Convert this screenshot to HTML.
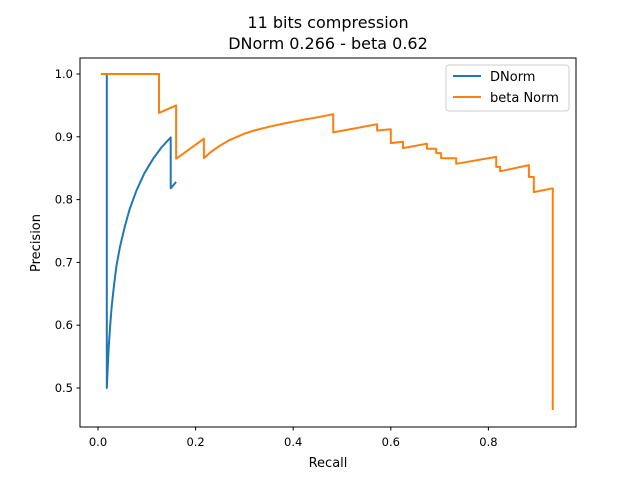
<!DOCTYPE html>
<html><head><meta charset="utf-8"><style>body{margin:0;background:#fff}svg{display:block;font-family:"DejaVu Sans","Liberation Sans",sans-serif}</style></head>
<body>
<svg id="c" width="640" height="480">
<rect width="640" height="480" fill="#fff"/>
<text x="328" y="28" text-anchor="middle" font-size="16">11 bits compression</text>
<text x="328" y="49" text-anchor="middle" font-size="16">DNorm 0.266 - beta 0.62</text>
<g id="ticks"></g>
<path id="blue" fill="none" stroke="#1f77b4" stroke-width="2" stroke-linejoin="round"/>
<path id="orange" fill="none" stroke="#ff7f0e" stroke-width="2" stroke-linejoin="round"/>
<rect x="80" y="58" width="496" height="369" fill="none" stroke="#000" stroke-width="1"/>
<text x="328" y="467" text-anchor="middle" font-size="13">Recall</text>
<text transform="translate(40,243) rotate(-90)" text-anchor="middle" font-size="13">Precision</text>
<g>
<rect x="446" y="65" width="123" height="46" rx="3" fill="#fff" stroke="#ccc"/>
<line x1="453" y1="76" x2="481" y2="76" stroke="#1f77b4" stroke-width="2"/>
<text x="490" y="81" font-size="13">DNorm</text>
<line x1="453" y1="97" x2="481" y2="97" stroke="#ff7f0e" stroke-width="2"/>
<text x="490" y="102" font-size="13">beta Norm</text>
</g>
</svg>
<script>
const xTicks=[0.0,0.2,0.4,0.6,0.8];
const yTicks=[0.5,0.6,0.7,0.8,0.9,1.0];
const dnormRecall=[0.018,0.018,0.02,0.022,0.025,0.028,0.033,0.038,0.045,0.055,0.065,0.079,0.095,0.113,0.13,0.149,0.149,0.16];
const dnormPrecision=[1.0,0.5,0.535,0.565,0.6,0.63,0.665,0.695,0.725,0.757,0.785,0.815,0.842,0.865,0.883,0.899,0.818,0.828];
const betaRecall=[0.006,0.125,0.125,0.16,0.16,0.217,0.217,0.23,0.25,0.27,0.3,0.32,0.35,0.38,0.4,0.42,0.45,0.482,0.482,0.572,0.572,0.6,0.6,0.625,0.625,0.674,0.674,0.693,0.693,0.703,0.703,0.734,0.734,0.816,0.816,0.824,0.824,0.883,0.883,0.893,0.893,0.932,0.932];
const betaPrecision=[1.0,1.0,0.938,0.95,0.865,0.897,0.866,0.875,0.886,0.895,0.905,0.91,0.916,0.921,0.924,0.927,0.931,0.936,0.907,0.92,0.91,0.912,0.89,0.892,0.882,0.889,0.881,0.881,0.874,0.874,0.866,0.866,0.857,0.868,0.852,0.852,0.845,0.855,0.836,0.836,0.812,0.818,0.465];
const X=v=>98+v*488, Y=v=>74+(1-v)*628;
const ns="http://www.w3.org/2000/svg";
const g=document.getElementById('ticks');
function mk(t,a){const e=document.createElementNS(ns,t);for(const k in a)e.setAttribute(k,a[k]);g.appendChild(e);return e;}
xTicks.forEach(v=>{const x=X(v);
const l=mk('line',{x1:x,x2:x,y1:427,y2:430.5,stroke:'#000'});


const t=mk('text',{x:x,y:446,'text-anchor':'middle','font-size':11.5});t.textContent=v.toFixed(1);

});
yTicks.forEach(v=>{const y=Y(v);
const l=mk('line',{x1:76.5,x2:80,y1:y,y2:y,stroke:'#000'});


const t=mk('text',{x:73,y:y+4,'text-anchor':'end','font-size':11.5});t.textContent=v.toFixed(1);

});
const path=(xs,ys)=>xs.map((v,i)=>(i?'L':'M')+X(v).toFixed(1)+','+Y(ys[i]).toFixed(1)).join('');
document.getElementById('blue').setAttribute('d',path(dnormRecall,dnormPrecision));
document.getElementById('orange').setAttribute('d',path(betaRecall,betaPrecision));
</script>
</body></html>
